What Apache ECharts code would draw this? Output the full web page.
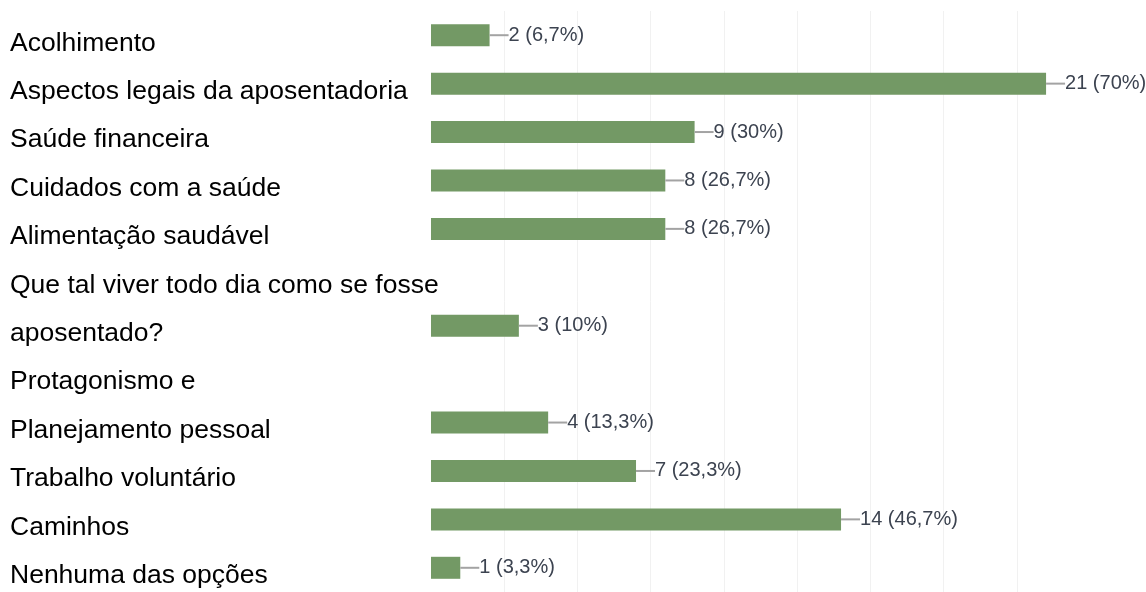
<!DOCTYPE html>
<html>
<head>
<meta charset="utf-8">
<script src="https://cdn.jsdelivr.net/npm/echarts@6/dist/echarts.min.js"></script>
<style>
html,body{margin:0;padding:0;background:#fff;}
#chart{width:1146px;height:592px;}
</style>
</head>
<body>
<div id="chart"></div>
<script>
// Categories (each listed as the lines it is written on)
const categoryLines = [
  ['Acolhimento'],
  ['Aspectos legais da aposentadoria'],
  ['Saúde financeira'],
  ['Cuidados com a saúde'],
  ['Alimentação saudável'],
  ['Que tal viver todo dia como se fosse', 'aposentado?'],
  ['Protagonismo e', 'Planejamento pessoal'],
  ['Trabalho voluntário'],
  ['Caminhos'],
  ['Nenhuma das opções']
];
const counts = [2, 21, 9, 8, 8, 3, 4, 7, 14, 1];
const percents = ['6,7%', '70%', '30%', '26,7%', '26,7%', '10%', '13,3%', '23,3%', '46,7%', '3,3%'];

// Build one axis slot per written line; the bar sits on the last line of its category
const slotLabels = [];
const slotValues = [];
const slotPct = [];
categoryLines.forEach((lines, i) => {
  lines.forEach((ln, j) => {
    slotLabels.push(ln);
    const isLast = j === lines.length - 1;
    slotValues.push(isLast ? counts[i] : '-');
    slotPct.push(isLast ? percents[i] : '');
  });
});

const chart = echarts.init(document.getElementById('chart'));
chart.setOption({
  animation: false,
  backgroundColor: '#ffffff',
  grid: { left: 431, top: 11, height: 581, width: 659, containLabel: false },
  xAxis: {
    type: 'value', min: 0, max: 22.5, interval: 2.5,
    axisLine: { show: false }, axisTick: { show: false }, axisLabel: { show: false },
    splitLine: { show: true, showMinLine: false, showMaxLine: false, lineStyle: { color: '#f1f1f1', width: 1 } }
  },
  yAxis: {
    type: 'category', inverse: true, data: slotLabels,
    axisLine: { show: false }, axisTick: { show: false },
    axisLabel: {
      interval: 0, align: 'left', verticalAlign: 'top', lineHeight: 16, margin: 421,
      fontSize: 26.5, color: '#000000',
      fontFamily: 'Liberation Sans, Arial, sans-serif'
    }
  },
  series: [{
    type: 'bar', data: slotValues, barWidth: 22,
    itemStyle: { color: '#739965' },
    label: {
      show: true, position: 'right', distance: 0,
      formatter: p => '{ln|}{t|' + p.value + ' (' + slotPct[p.dataIndex] + ')}',
      rich: {
        ln: { width: 19, height: 2, backgroundColor: '#a3a3a3', verticalAlign: 'middle' },
        t: { fontSize: 20, color: '#3c4350', fontFamily: 'Liberation Sans, Arial, sans-serif' }
      }
    }
  }]
});
</script>
</body>
</html>
